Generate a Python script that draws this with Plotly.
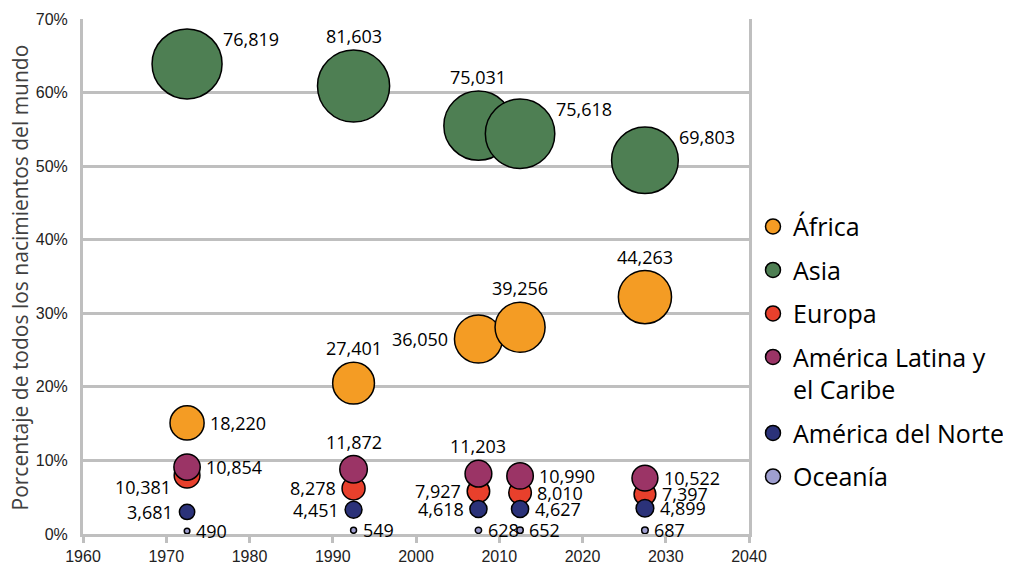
"""Share of world births by region, bubble size = births (thousands)."""

import math

import plotly.graph_objects as go

# ── data ──────────────────────────────────────────────────────────────────────
years = [1972.5, 1992.5, 2007.5, 2012.5, 2027.5]

regions = ["África", "Asia", "Europa", "América Latina y<br>el Caribe",
           "América del Norte", "Oceanía"]

share = {
    "África":  [0.151, 0.205, 0.265, 0.281, 0.322],
    "Asia":    [0.639, 0.609, 0.555, 0.544, 0.508],
    "Europa":  [0.080, 0.062, 0.058, 0.056, 0.054],
    "Latam":   [0.091, 0.088, 0.082, 0.079, 0.076],
    "NorteAm": [0.030, 0.033, 0.034, 0.034, 0.035],
    "Oceania": [0.004, 0.005, 0.005, 0.005, 0.005],
}

births = {
    "África":  [18220, 27401, 36050, 39256, 44263],
    "Asia":    [76819, 81603, 75031, 75618, 69803],
    "Europa":  [10381, 8278, 7927, 8010, 7397],
    "Latam":   [10854, 11872, 11203, 10990, 10522],
    "NorteAm": [3681, 4451, 4618, 4627, 4899],
    "Oceania": [490, 549, 628, 652, 687],
}

y_title = "Porcentaje de todos los nacimientos del mundo"

# ── styling ───────────────────────────────────────────────────────────────────
keys = ["África", "Asia", "Europa", "Latam", "NorteAm", "Oceania"]
colors = ["#F49C24", "#4E7F53", "#E8402C", "#9B3466", "#2B3279", "#9E9ECF"]

# where each data label sits relative to its bubble
label_dir = {
    "África":  ["E", "N", "W", "N", "N"],
    "Asia":    ["NE", "N", "N", "NE", "NE"],
    "Europa":  ["SW", "W", "W", "E", "E"],
    "Latam":   ["E", "N", "N", "E", "E"],
    "NorteAm": ["W", "W", "W", "E", "E"],
    "Oceania": ["E", "E", "E", "E", "E"],
}

GRID = "#BFBFBF"
TEXT_FAMILY = "Open Sans, Lato, sans-serif"
TICK_FAMILY = "Liberation Sans, Arial, sans-serif"
LABEL_FONT = dict(family=TEXT_FAMILY, size=18, color="#000000")
SIZEREF = 2 * 76819 / 70 ** 2       # Asia 1972 bubble ~70px across


def radius(v):
    return 0.5 * math.sqrt(2 * v / SIZEREF)


def label_annotation(x, y, v, d):
    r = radius(v)
    pad = 4
    a = dict(x=x, y=y, text=f"{v:,}", showarrow=False, font=LABEL_FONT)
    if d == "E":
        a.update(xanchor="left", yanchor="middle", xshift=r + pad)
    elif d == "W":
        a.update(xanchor="right", yanchor="middle", xshift=-(r + pad))
    elif d == "N":
        a.update(xanchor="center", yanchor="bottom", yshift=r)
    elif d == "NE":
        a.update(xanchor="left", yanchor="middle", xshift=r - 1, yshift=0.7 * r)
    elif d == "SW":
        a.update(xanchor="right", yanchor="middle", xshift=-1.1 * r, yshift=-0.9 * r)
    return a


fig = go.Figure()
annotations = []

for key, name, col in zip(keys, regions, colors):
    fig.add_trace(go.Scatter(
        x=years, y=share[key], mode="markers",
        marker=dict(size=births[key], sizemode="area", sizeref=SIZEREF,
                    color=col, opacity=1, line=dict(color="#000000", width=1.5)),
        showlegend=False, hoverinfo="skip",
    ))
    for x, y, v, d in zip(years, share[key], births[key], label_dir[key]):
        annotations.append(label_annotation(x, y, v, d))

# legend-only entries with fixed symbol size
for key, name, col in zip(keys, regions, colors):
    fig.add_trace(go.Scatter(
        x=[None], y=[None], mode="markers", name=name, legendgroup=key,
        marker=dict(size=15, color=col, line=dict(color="#000000", width=1.5)),
    ))

# y-axis title as a rotated annotation so it can sit further left
annotations.append(dict(
    x=0, y=0.5, xref="paper", yref="paper", xanchor="center", yanchor="middle",
    xshift=-64, yshift=-1, textangle=-90, showarrow=False, text=y_title,
    font=dict(family=TEXT_FAMILY, size=21, color="#404040"),
))

# page body margin offsets the figure by 8px, so size/margins compensate;
# autoexpand off so the wide legend doesn't squeeze the plot area
fig.update_layout(
    width=1003, height=559,
    paper_bgcolor="white", plot_bgcolor="white",
    margin=dict(l=75, r=262, t=11, b=33, autoexpand=False),
    annotations=annotations,
    legend=dict(
        x=1.006, xanchor="left", y=0.354, yanchor="middle",
        font=dict(family=TEXT_FAMILY, size=25, color="#000000"),
        tracegroupgap=8, valign="top", itemwidth=30,
    ),
)

fig.update_xaxes(
    range=[1960, 2040], dtick=10, showgrid=False, zeroline=False,
    showline=True, linecolor=GRID, linewidth=3, automargin=False,
    ticks="outside", ticklen=6, tickwidth=3, tickcolor=GRID,
    tickfont=dict(family=TICK_FAMILY, size=16, color="#222222"),
)
fig.update_yaxes(
    range=[0, 0.7], dtick=0.1, tickformat=".0%",
    showgrid=True, gridcolor=GRID, gridwidth=3, zeroline=False,
    showline=True, linecolor=GRID, linewidth=3, mirror=True, automargin=False,
    ticks="", ticklabelstandoff=9,
    tickfont=dict(family=TICK_FAMILY, size=16, color="#222222"),
)

fig.write_html("out.html")
